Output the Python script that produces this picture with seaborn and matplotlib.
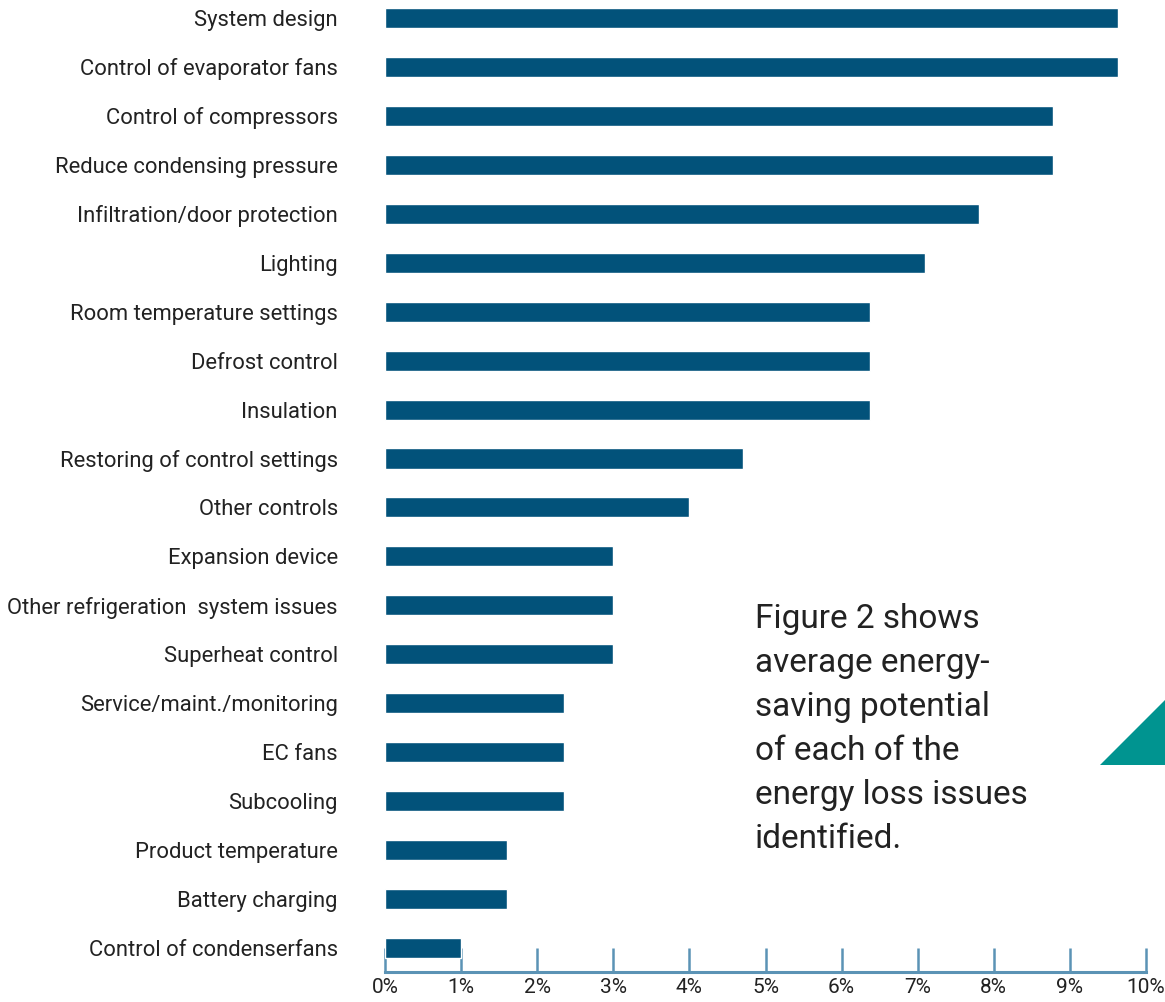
import matplotlib
matplotlib.use("Agg")
import matplotlib.pyplot as plt
import seaborn as sns
import pandas as pd
from matplotlib.patches import Polygon
from matplotlib.ticker import FuncFormatter

categories = [
    "System design", "Control of evaporator fans", "Control of compressors",
    "Reduce condensing pressure", "Infiltration/door protection", "Lighting",
    "Room temperature settings", "Defrost control", "Insulation",
    "Restoring of control settings", "Other controls", "Expansion device",
    "Other refrigeration  system issues", "Superheat control",
    "Service/maint./monitoring", "EC fans", "Subcooling",
    "Product temperature", "Battery charging", "Control of condenserfans",
]
values = [9.63, 9.63, 8.78, 8.78, 7.8, 7.1, 6.37, 6.37, 6.37, 4.7,
          4.0, 3.0, 3.0, 3.0, 2.35, 2.35, 2.35, 1.6, 1.6, 1.0]
x_ticks = list(range(0, 11))

sns.set_theme(style="white")
plt.rcParams["font.family"] = ["Roboto", "DejaVu Sans"]

df = pd.DataFrame({"issue": categories, "saving": values})

fig = plt.figure(figsize=(11.65, 10.02), dpi=100)
ax = fig.add_axes([385 / 1165, 1 - 972 / 1002, (1146 - 385) / 1165, 972 / 1002])

sns.barplot(data=df, x="saving", y="issue", orient="h", color="#02527a",
            width=0.41, saturation=1, ax=ax)

ax.set_xlim(0, 10)
ax.set_ylim(19.49, -0.367)
ax.set_xlabel("")
ax.set_ylabel("")
ax.set_xticks(x_ticks)
ax.xaxis.set_major_formatter(FuncFormatter(lambda v, p: f"{int(v)}%"))

for s in ["top", "right", "left"]:
    ax.spines[s].set_visible(False)
ax.spines["bottom"].set_color("#5b93b5")
ax.spines["bottom"].set_linewidth(2.2)

ax.tick_params(axis="x", direction="in", length=17, width=1.8, color="#5b93b5",
               labelsize=15, labelcolor="#222222", pad=4, bottom=True)
ax.tick_params(axis="y", length=0, labelsize=15.85, labelcolor="#222222", pad=34)

fig.text(755 / 1165, 1 - 603 / 1002,
         "Figure 2 shows\naverage energy-\nsaving potential\nof each of the\nenergy loss issues\nidentified.",
         fontsize=24, color="#222222", va="top", ha="left", linespacing=1.48)

tri = Polygon([(1165 / 1165, 1 - 700 / 1002), (1100 / 1165, 1 - 765 / 1002),
               (1165 / 1165, 1 - 765 / 1002)], closed=True,
              transform=fig.transFigure, facecolor="#009490", edgecolor="none")
fig.patches.append(tri)

fig.savefig("out.png", dpi=100)
